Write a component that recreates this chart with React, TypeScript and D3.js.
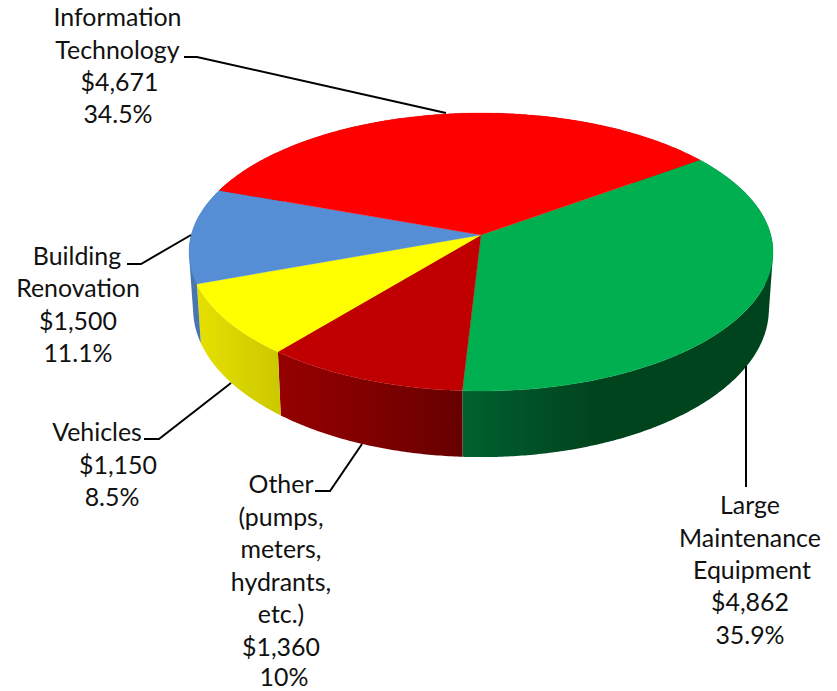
import React from "react";
import * as d3 from "d3";

const categories = ["Large Maintenance Equipment", "Other", "Vehicles", "Building Renovation", "Information Technology"];
const values = [4862, 1360, 1150, 1500, 4671];
const topColors = ["#00B050", "#C00000", "#FFFF00", "#558ED5", "#FF0000"];
const sideColors = [
  ["#00612F", "#00441E", "#00441E"],
  ["#960000", "#800000", "#660000"],
  ["#E6E000", "#D8D400", "#CCC800"],
  ["#4A76B0", "#4A76B0"],
  ["#A00000", "#A00000"],
];
const sideOffsets = [
  [0, 0.42, 1],
  [0, 0.5, 1],
  [0, 0.5, 1],
  [0, 1],
  [0, 1],
];
const labelLines = [
  ["Large", "Maintenance", "Equipment", "$4,862", "35.9%"],
  ["Other", "(pumps,", "meters,", "hydrants,", "etc.)", "$1,360", "10%"],
  ["Vehicles", "$1,150", "8.5%"],
  ["Building", "Renovation", "$1,500", "11.1%"],
  ["Information", "Technology", "$4,671", "34.5%"],
];

const W = 837;
const H = 691;
const START = (54 * Math.PI) / 180;
const K = 0.1223;
const top = { cx: 481, cy: 235, a: 289.8, b: 136.9 };
const bottom = { cx: 481, cy: 291, a: 285.7, b: 145.8 };

const labelX = [
  [750, 750, 752, 750, 750],
  [281, 281, 281, 281, 281, 281, 284],
  [97, 118, 112],
  [77, 78, 78, 78],
  [117.5, 117.5, 119.5, 118],
];
const labelY = [
  [514, 547, 579, 611, 644],
  [493, 526, 558, 591, 623, 656, 686],
  [441, 474, 506],
  [265, 297, 330, 362],
  [26, 59, 91, 123],
];
const leaders: [number, number][][] = [
  [[746, 366], [746, 487]],
  [[362, 444], [330, 491], [315, 491]],
  [[231, 383], [159, 439], [144, 439]],
  [[191, 235], [141, 264], [127, 264]],
  [[184, 57], [197, 57], [446, 113]],
];

type Pt = [number, number];
type Disc = typeof top;
const project = (d: Disc, t: number): Pt => {
  const u = Math.sin(t);
  const v = Math.cos(t);
  const w = 1 + K * v;
  return [d.cx + (d.a * u) / w, d.cy - (d.b * v) / w];
};

const pie = d3
  .pie<number>()
  .sort(null)
  .startAngle(START)
  .endAngle(START + 2 * Math.PI);
const arcs = pie(values);
const line = d3.line();
const STEP = Math.PI / 360;

const angleSteps = (a0: number, a1: number) => {
  const n = Math.max(1, Math.ceil((a1 - a0) / STEP));
  return d3.range(n + 1).map((i) => a0 + ((a1 - a0) * i) / n);
};

// One path made of same-winding quads, so the side's silhouette includes the tangent between both rims
const sidePath = (ts: number[]) =>
  ts
    .slice(0, -1)
    .map((t, j) => {
      const q: Pt[] = [project(top, t), project(top, ts[j + 1]), project(bottom, ts[j + 1]), project(bottom, t)];
      if (d3.polygonArea(q) < 0) q.reverse();
      return line(q) + "Z";
    })
    .join("");

export default function App() {
  return (
    <svg
      width={W}
      height={H}
      viewBox={`0 0 ${W} ${H}`}
      style={{ position: "absolute", left: 0, top: 0, display: "block", background: "#fff" }}
    >
      <defs>
        {arcs.map((arc, i) => {
          const ts = angleSteps(arc.startAngle, arc.endAngle);
          const [x0, x1] = d3.extent(ts.flatMap((t) => [project(top, t)[0], project(bottom, t)[0]])) as Pt;
          return (
            <linearGradient key={i} id={`side-${i}`} gradientUnits="userSpaceOnUse" x1={x0} x2={x1} y1={0} y2={0}>
              {sideColors[i].map((c, j) => (
                <stop key={j} offset={sideOffsets[i][j]} stopColor={c} />
              ))}
            </linearGradient>
          );
        })}
      </defs>
      <g>
        {arcs.map((arc, i) => (
          <path
            key={categories[i] + "-side"}
            d={sidePath(angleSteps(arc.startAngle, arc.endAngle))}
            fill={`url(#side-${i})`}
          />
        ))}
      </g>
      <g>
        {arcs.map((arc, i) => (
          <path
            key={categories[i]}
            d={line([[top.cx, top.cy], ...angleSteps(arc.startAngle, arc.endAngle).map((t) => project(top, t))]) + "Z"}
            fill={topColors[i]}
            stroke={topColors[i]}
            strokeWidth={0.3}
          />
        ))}
      </g>
      <g fill="none" stroke="#000" strokeWidth={2}>
        {leaders.map((pts, i) => (
          <path key={i} d={line(pts) ?? ""} />
        ))}
      </g>
      <g fontFamily="Lato, 'Open Sans', sans-serif" fontSize={24.9} fill="#111" textAnchor="middle">
        {labelLines.map((lines, i) =>
          lines.map((txt, j) => (
            <text key={`${i}-${j}`} x={labelX[i][j]} y={labelY[i][j]}>
              {txt}
            </text>
          ))
        )}
      </g>
    </svg>
  );
}
